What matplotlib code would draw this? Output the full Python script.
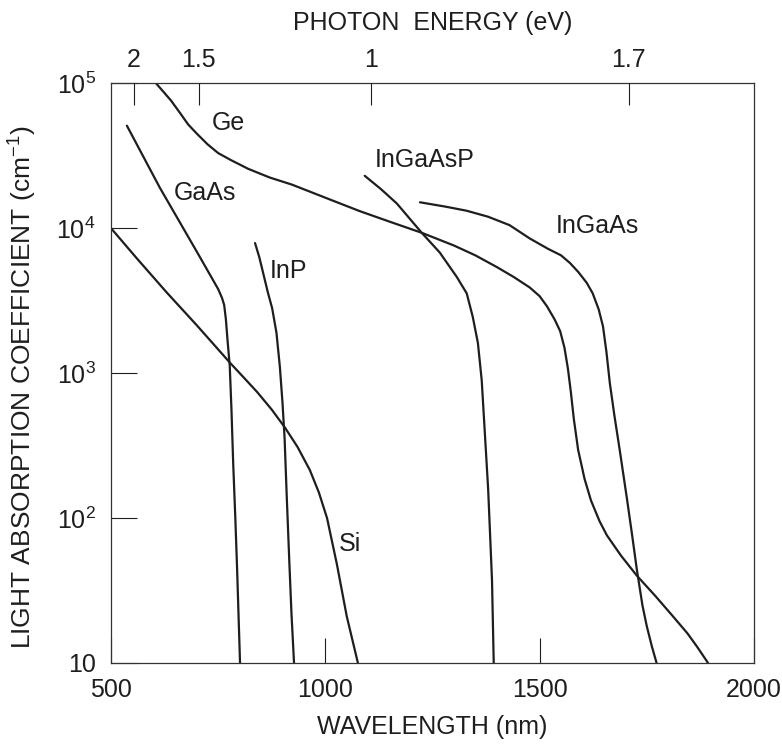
import numpy as np
import matplotlib
matplotlib.use("Agg")
import matplotlib.pyplot as plt
from matplotlib.ticker import FixedLocator, FixedFormatter, NullLocator

plt.rcParams["font.family"] = ["Liberation Sans", "DejaVu Sans"]
plt.rcParams["mathtext.fontset"] = "custom"
plt.rcParams["mathtext.rm"] = "Liberation Sans"
plt.rcParams["mathtext.it"] = "Liberation Sans:italic"

# wavelength (nm) / absorption coefficient (cm^-1)
ge_wl = [605, 620, 640, 660, 680, 700, 725, 750, 780, 820, 870, 922, 970,
         1020, 1081, 1150, 1225, 1300, 1350, 1400, 1440, 1477, 1500, 1517,
         1535, 1548, 1558, 1566, 1573, 1580, 1590, 1605, 1620, 1640, 1657,
         1690, 1727, 1770, 1811, 1845, 1867, 1893]
ge_abs = [100000, 89000, 76000, 63000, 52000, 45000, 38000, 33000, 29500,
          25700, 22400, 20000, 17600, 15400, 13100, 11100, 9300, 7600, 6500,
          5400, 4600, 3900, 3400, 2900, 2350, 1950, 1500, 1080, 740, 480, 295,
          186, 132, 95, 76, 55, 40, 29, 21, 16, 13, 10]

gaas_wl = [537, 614, 700, 750, 759, 764, 768, 772, 777, 781, 785, 790, 794, 801]
gaas_abs = [51000, 19000, 6900, 3800, 3300, 2950, 2350, 1660, 1120, 560, 240,
            100, 46, 10]

inp_wl = [836, 846, 855, 866, 876, 886, 894, 900, 905, 910, 916, 921, 927]
inp_abs = [7900, 6300, 4900, 3600, 2800, 1900, 1100, 630, 355, 141, 50, 22, 10]

si_wl = [500, 560, 630, 700, 778, 810, 841, 875, 906, 935, 964, 985, 1004,
         1027, 1050, 1076]
si_abs = [10000, 6200, 3600, 2140, 1175, 930, 740, 560, 420, 310, 214, 150,
          100, 48, 21, 10]

ingaasp_wl = [1092, 1130, 1167, 1225, 1267, 1307, 1330, 1344, 1356, 1365, 1374,
              1380, 1385, 1389, 1393]
ingaasp_abs = [23000, 18600, 14800, 9300, 6800, 4600, 3550, 2450, 1620, 890,
               316, 158, 71, 37, 10]

ingaas_wl = [1221, 1280, 1330, 1380, 1430, 1477, 1520, 1550, 1571, 1590, 1610,
             1624, 1638, 1648, 1656, 1664, 1675, 1687, 1704, 1716, 1727, 1740,
             1750, 1762, 1773]
ingaas_abs = [15100, 14100, 13200, 12000, 10500, 8500, 7200, 6500, 5750, 5000,
              4200, 3550, 2750, 2100, 1400, 850, 500, 295, 135, 76, 44, 25, 18,
              13, 10]

curve_names = ["Ge", "GaAs", "InP", "Si", "InGaAsP", "InGaAs"]
label_wl = [773, 719, 913, 1057, 1232, 1634]
label_abs = [53000, 17500, 5100, 66, 29500, 10300]

x_ticks = [500, 1000, 1500, 2000]
y_ticks = [10, 1e2, 1e3, 1e4, 1e5]
y_tick_labels = ["10", "$10^2$", "$10^3$", "$10^4$", "$10^5$"]
energy_tick_wl = [554, 705, 1106, 1708]
energy_tick_labels = ["2", "1.5", "1", "1.7"]

fs = 18
ink = "#1e1e1e"
fig = plt.figure(figsize=(7.82, 7.44), dpi=100)
ax = fig.add_axes([0.142, 0.109, 0.822, 0.779])

series = [(ge_wl, ge_abs), (gaas_wl, gaas_abs), (inp_wl, inp_abs),
          (si_wl, si_abs), (ingaasp_wl, ingaasp_abs), (ingaas_wl, ingaas_abs)]
for wl, a in series:
    ax.plot(wl, a, color=ink, lw=1.6, solid_capstyle="round",
            solid_joinstyle="round")

for name, lx, ly in zip(curve_names, label_wl, label_abs):
    ax.text(lx, ly, name, fontsize=fs, ha="center", va="center", color=ink)

ax.set_yscale("log")
ax.set_xlim(500, 2000)
ax.set_ylim(10, 1e5)

ax.xaxis.set_major_locator(FixedLocator(x_ticks))
ax.xaxis.set_minor_locator(NullLocator())
ax.set_xticklabels([str(t) for t in x_ticks])
ax.yaxis.set_major_locator(FixedLocator(y_ticks))
ax.yaxis.set_major_formatter(FixedFormatter(y_tick_labels))
ax.yaxis.set_minor_locator(NullLocator())
ax.tick_params(axis="x", direction="in", length=18, width=0.8, pad=11,
               labelsize=fs, top=False, colors=ink)
ax.tick_params(axis="y", direction="in", length=19, width=0.8, pad=11,
               labelsize=fs, right=False, colors=ink)

for sp in ax.spines.values():
    sp.set_linewidth(0.9)
    sp.set_color("#333333")

ax.set_xlabel("WAVELENGTH (nm)", fontsize=fs, labelpad=9, color=ink)
ax.set_ylabel("LIGHT ABSORPTION COEFFICIENT (cm$^{-1}$)", fontsize=19,
              color=ink)
ax.yaxis.set_label_coords(-0.112, 0.475)

top = ax.twiny()
top.set_xlim(ax.get_xlim())
top.xaxis.set_major_locator(FixedLocator(energy_tick_wl))
top.xaxis.set_major_formatter(FixedFormatter(energy_tick_labels))
top.xaxis.set_minor_locator(NullLocator())
top.tick_params(axis="x", direction="in", length=16, width=0.8, pad=8,
                labelsize=fs, colors=ink)
top.set_xlabel("PHOTON  ENERGY (eV)", fontsize=fs, labelpad=13, color=ink)
for sp in top.spines.values():
    sp.set_visible(False)

fig.savefig("out.png", dpi=100)
